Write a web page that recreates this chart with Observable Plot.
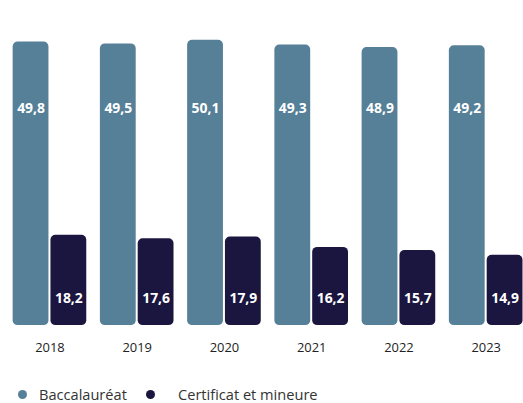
<!DOCTYPE html>
<html>
<head>
<meta charset="utf-8">
<script src="https://cdn.jsdelivr.net/npm/d3@7"></script>
<script src="https://cdn.jsdelivr.net/npm/@observablehq/plot@0.6"></script>
<style>
  html, body { margin: 0; padding: 0; background: #fff; overflow: hidden; }
  #wrap { position: relative; width: 523px; height: 403px; overflow: hidden; font-family: "Open Sans", sans-serif; }
  #chart svg { display: block; }
  #legend { position: absolute; left: 0; top: 384px; width: 523px; font-size: 14.6px; line-height: 20px; color: #333; }
  .item { position: absolute; top: 0; white-space: nowrap; }
  .dot { position: absolute; top: 6px; width: 9px; height: 9px; border-radius: 50%; }
</style>
</head>
<body>
<div id="wrap">
  <div id="chart"></div>
  <div id="legend"></div>
</div>
<script>
const years = ["2018", "2019", "2020", "2021", "2022", "2023"];
const series = ["Baccalauréat", "Certificat et mineure"];
const baccalaureat = [49.8, 49.5, 50.1, 49.3, 48.9, 49.2];
const certificat = [18.2, 17.6, 17.9, 16.2, 15.7, 14.9];
const colors = ["#567f98", "#1b1640"];

const data = [];
years.forEach((y, i) => {
  data.push({year: y, series: series[0], value: baccalaureat[i]});
  data.push({year: y, series: series[1], value: certificat[i]});
});
const fmt = v => d3.format(".1f")(v).replace(".", ",");

const plot = Plot.plot({
  width: 526,
  height: 370,
  marginTop: 0,
  marginBottom: 43,
  marginLeft: 12.7,
  marginRight: 0.5,
  style: {fontFamily: "Open Sans, sans-serif", background: "transparent"},
  fx: {domain: years, paddingInner: 0.156, paddingOuter: 0, round: false, label: null},
  x: {domain: series, paddingInner: 0.053, paddingOuter: 0, round: false, axis: null},
  y: {domain: [3.4, 56.6], clamp: true, axis: null},
  color: {domain: series, range: colors},
  marks: [
    Plot.barY(data, {fx: "year", x: "series", y: "value", fill: "series", rx: 5}),
    Plot.text(data.filter(d => d.series === series[0]), {
      fx: "year", x: "series", text: d => fmt(d.value), frameAnchor: "top", dy: 109,
      lineAnchor: "middle", fill: "white", fontWeight: "bold", fontSize: 14
    }),
    Plot.text(data.filter(d => d.series === series[1]), {
      fx: "year", x: "series", text: d => fmt(d.value), frameAnchor: "bottom", dy: -27,
      lineAnchor: "middle", fill: "white", fontWeight: "bold", fontSize: 14
    }),
    Plot.axisFx({anchor: "bottom", tickSize: 0, tickPadding: 17, fontSize: 13, label: null, color: "#222"})
  ]
});
document.getElementById("chart").appendChild(plot);

const legend = document.getElementById("legend");
const pos = [{dot: 17.5, text: 39}, {dot: 146, text: 178}];
series.forEach((s, i) => {
  const dot = document.createElement("span");
  dot.className = "dot";
  dot.style.left = pos[i].dot + "px";
  dot.style.background = colors[i];
  legend.appendChild(dot);
  const t = document.createElement("span");
  t.className = "item";
  t.style.left = pos[i].text + "px";
  t.textContent = s;
  legend.appendChild(t);
});
</script>
</body>
</html>
